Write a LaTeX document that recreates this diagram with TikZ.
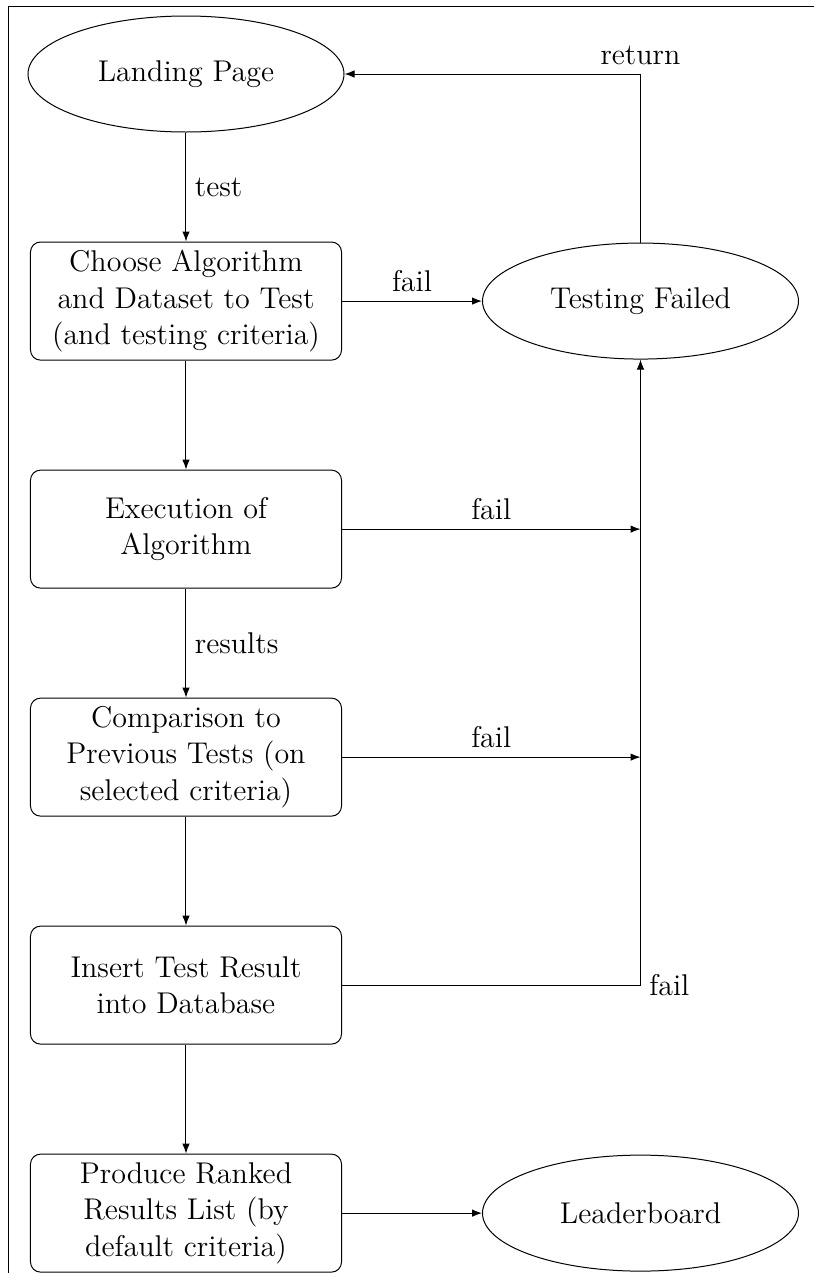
\documentclass[tikz,border=0pt]{standalone}
\usepackage{tikz}
\usetikzlibrary{arrows.meta,positioning,shapes.geometric}
\tikzset{
  stepbox/.style={draw, rounded corners=4pt, minimum height=47.2pt, minimum width=124.4pt, align=center},
  endpoint/.style={draw, ellipse, minimum height=46.4pt, minimum width=126.4pt, align=center},
  arrow/.style={-{Latex[length=4pt]}}
}

\begin{document}
\begin{tikzpicture}[node distance=43.6pt and 56pt, font=\fontsize{12}{14.5}\selectfont]
  \useasboundingbox (-74.4pt,29.6pt) rectangle (250.8pt,-479.6pt);
  \draw (-70.8pt,-481pt) |- (252pt,26.9pt);
  \node[endpoint] (landing) {Landing Page};
  \node[stepbox, below=of landing] (choose) {Choose Algorithm\\and Dataset to Test\\(and testing criteria)};
  \node[endpoint, right=of choose] (failed) {Testing Failed};
  \node[stepbox, below=of choose] (exec) {Execution of\\Algorithm};
  \node[stepbox, below=of exec] (compare) {Comparison to\\Previous Tests (on\\selected criteria)};
  \node[stepbox, below=of compare] (insert) {Insert Test Result\\into Database};
  \node[stepbox, below=of insert] (rank) {Produce Ranked\\Results List (by\\default criteria)};
  \node[endpoint, right=of rank] (board) {Leaderboard};
  % main flow
  \draw[arrow] (landing) -- node[right]{test} (choose);
  \draw[arrow] (choose) -- (exec);
  \draw[arrow] (exec) -- node[right]{results} (compare);
  \draw[arrow] (compare) -- (insert);
  \draw[arrow] (insert) -- (rank);
  \draw[arrow] (rank) -- (board);
  % failures
  \draw[arrow] (choose) -- node[above]{fail} (failed);
  \draw[arrow] (exec) -- node[above]{fail} (exec -| failed);
  \draw[arrow] (compare) -- node[above]{fail} (compare -| failed);
  \draw[arrow] (insert) -| node[right]{fail} (failed);
  \draw[arrow] (failed) |- node[above]{return} (landing);
\end{tikzpicture}
\end{document}
